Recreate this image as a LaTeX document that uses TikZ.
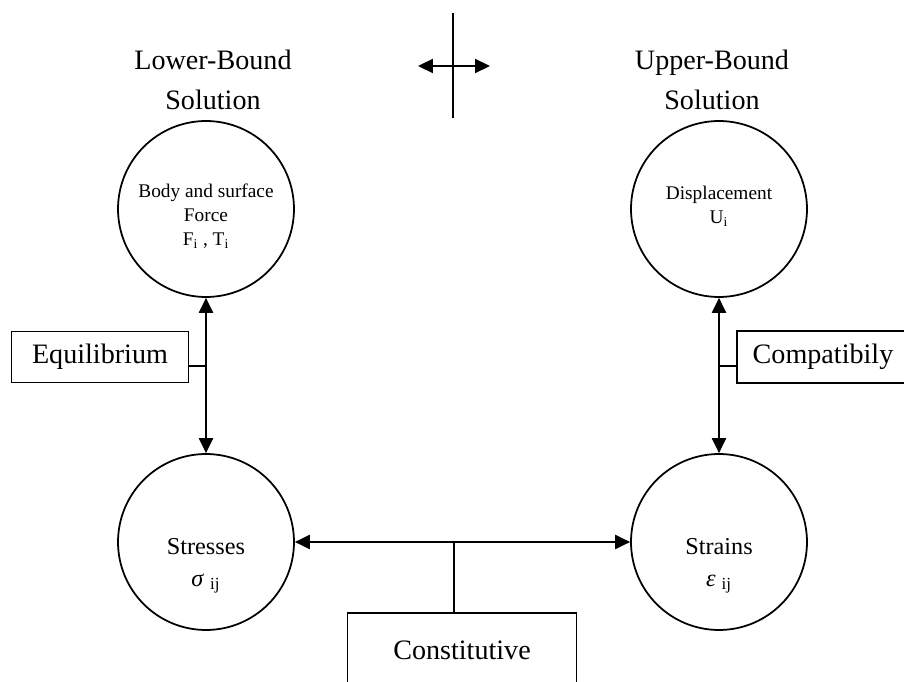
\documentclass[tikz,border=0pt]{standalone}
\usepackage{fontspec}
\setmainfont{Liberation Serif}
\usetikzlibrary{arrows.meta}
\usetikzlibrary{calc}

\begin{document}
\begin{tikzpicture}[x=0.02cm,y=-0.02cm,
        >={Triangle[length=8.5pt,width=8pt]},
        line/.style={line width=1pt},
        bubble/.style={draw,circle,line width=1pt,minimum size=3.52cm,inner sep=0pt},
        small/.style={align=center,font=\fontsize{11}{13.7}\selectfont},
        inner/.style={align=center,font=\fontsize{13.8}{18}\selectfont},
        tag/.style={draw,rectangle,line width=1pt,font=\fontsize{16}{19}\selectfont},
        title/.style={align=center,font=\fontsize{16}{22.8}\selectfont}]

        \useasboundingbox (0,0) rectangle (904,682);

        \node[title] (lower) at (213,80) {Lower-Bound\\Solution};
        \node[title] (upper) at (712,80) {Upper-Bound\\Solution};

        \coordinate (vtop) at (453,13);
        \coordinate (vbot) at (453,118);
        \coordinate (hl) at (418,66);
        \coordinate (hr) at (490,66);
        \draw[line] (vtop) -- (vbot);
        \draw[line,<->] (hl) -- (hr);

        \node[bubble] (force) at (206,209) {};
        \node[bubble] (disp) at (719,209) {};
        \node[bubble] (stress) at (206,542) {};
        \node[bubble] (strain) at (719,542) {};
        \node[small] (forcetxt) at (206,216) {Body and surface\\Force\\F\textsubscript{i} , T\textsubscript{i}};
        \node[small] (disptxt) at (719,206) {Displacement\\U\textsubscript{i}};
        \node[inner] (stresstxt) at (206,566) {Stresses\\\textit{σ}\ \textsubscript{ij}};
        \node[inner] (straintxt) at (719,566) {Strains\\\textit{ε}\ \textsubscript{ij}};

        \node[tag,minimum width=3.54cm,minimum height=1.02cm] (equil) at (100,357) {Equilibrium};
        \node[tag,minimum width=3.44cm,minimum height=1.04cm] (compat) at (823,357) {Compatibily};
        \node[tag,minimum width=4.58cm,minimum height=1.48cm] (const) at (462,650) {Constitutive};

        \draw[line,<->] (force) -- (stress);
        \draw[line,<->] (disp) -- (strain);
        \draw[line,<->] (stress) -- (strain);
        \draw[line] ([yshift=-0.18cm]equil.east) -- ([yshift=-0.18cm]equil.east -| force.south);
        \draw[line] ([yshift=-0.18cm]compat.west) -- ([yshift=-0.18cm]compat.west -| disp.south);
        \draw[line] ([xshift=-0.16cm]const.north) -- ([xshift=-0.16cm]const.north |- stress.east);
    \end{tikzpicture}
\end{document}
